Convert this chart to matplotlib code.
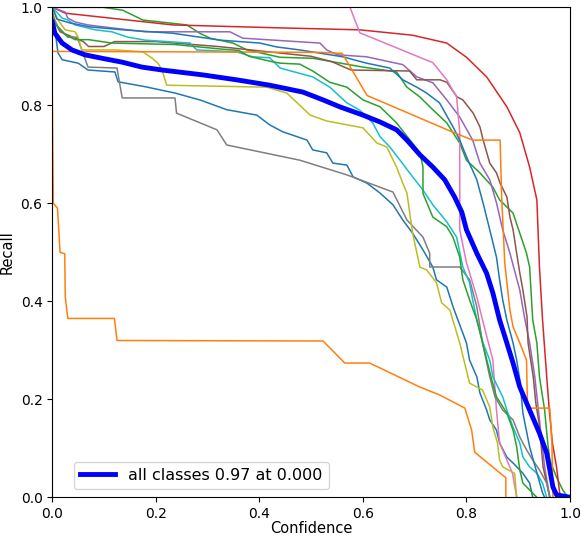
import matplotlib
matplotlib.use("Agg")
import matplotlib.pyplot as plt

# ---- data (confidence, recall) per class ----
blue1_conf = [0, 0.005, 0.011, 0.019, 0.05, 0.069, 0.121, 0.127, 0.179, 0.237, 0.285, 0.337, 0.395, 0.42, 0.445, 0.492, 0.503, 0.53, 0.542, 0.569, 0.581, 0.608, 0.633, 0.658, 0.677, 0.696, 0.716, 0.735, 0.742, 0.762, 0.774, 0.787, 0.8, 0.806, 0.82, 0.826, 0.839, 0.845, 0.858, 0.864, 0.878, 0.89, 0.909, 0.922, 0.928]
blue1_rec = [0.97, 0.955, 0.907, 0.893, 0.886, 0.872, 0.868, 0.848, 0.838, 0.825, 0.811, 0.791, 0.78, 0.76, 0.746, 0.729, 0.709, 0.703, 0.682, 0.678, 0.654, 0.641, 0.621, 0.597, 0.566, 0.539, 0.505, 0.47, 0.444, 0.429, 0.389, 0.352, 0.315, 0.28, 0.246, 0.213, 0.178, 0.158, 0.137, 0.111, 0.082, 0.07, 0.049, 0.029, 0.0]

orange1_conf = [0, 0.002, 0.01, 0.015, 0.024, 0.025, 0.03, 0.12, 0.125, 0.523, 0.565, 0.613, 0.71, 0.748, 0.797, 0.81, 0.816, 0.87, 0.876, 0.876]
orange1_rec = [0.82, 0.6, 0.59, 0.5, 0.497, 0.41, 0.365, 0.365, 0.32, 0.319, 0.274, 0.274, 0.225, 0.209, 0.182, 0.137, 0.092, 0.045, 0.04, 0.0]

green1_conf = [0, 0.098, 0.136, 0.175, 0.26, 0.285, 0.305, 0.349, 0.376, 0.44, 0.503, 0.6, 0.665, 0.685, 0.71, 0.735, 0.762, 0.774, 0.787, 0.8, 0.826, 0.851, 0.864, 0.89, 0.903, 0.916, 0.922, 0.928, 0.936, 0.941, 0.951, 0.957, 0.961, 0.974, 0.986, 0.996]
green1_rec = [1.0, 1.0, 0.994, 0.974, 0.964, 0.947, 0.937, 0.927, 0.913, 0.898, 0.896, 0.878, 0.868, 0.837, 0.817, 0.791, 0.764, 0.744, 0.723, 0.688, 0.662, 0.633, 0.607, 0.58, 0.539, 0.498, 0.47, 0.362, 0.315, 0.246, 0.178, 0.111, 0.076, 0.041, 0.015, 0.0]

red_conf = [0, 0.025, 0.233, 0.44, 0.594, 0.696, 0.762, 0.8, 0.839, 0.878, 0.903, 0.922, 0.936, 0.941, 0.947, 0.955, 0.96, 0.966, 0.974, 0.98, 0.984]
red_rec = [1.0, 0.988, 0.964, 0.958, 0.954, 0.943, 0.927, 0.898, 0.858, 0.797, 0.744, 0.674, 0.607, 0.47, 0.362, 0.246, 0.178, 0.111, 0.062, 0.009, 0.0]

purple_conf = [0, 0.025, 0.03, 0.044, 0.069, 0.115, 0.179, 0.343, 0.368, 0.517, 0.53, 0.551, 0.607, 0.633, 0.677, 0.704, 0.735, 0.762, 0.787, 0.812, 0.826, 0.845, 0.858, 0.87, 0.884, 0.903, 0.912, 0.922, 0.932, 0.941, 0.951, 0.961]
purple_rec = [1.0, 0.99, 0.978, 0.97, 0.964, 0.958, 0.95, 0.95, 0.937, 0.927, 0.913, 0.903, 0.899, 0.893, 0.883, 0.858, 0.846, 0.811, 0.776, 0.729, 0.682, 0.648, 0.601, 0.546, 0.498, 0.423, 0.368, 0.315, 0.246, 0.158, 0.062, 0.0]

brown_conf = [0, 0.005, 0.015, 0.06, 0.07, 0.1, 0.12, 0.2, 0.32, 0.5, 0.54, 0.577, 0.69, 0.704, 0.749, 0.762, 0.782, 0.793, 0.813, 0.826, 0.832, 0.845, 0.858, 0.865, 0.878, 0.884, 0.89, 0.897, 0.903, 0.909, 0.917, 0.919, 0.929, 0.934, 0.94, 0.944, 0.948, 0.961]
brown_rec = [0.99, 0.97, 0.95, 0.93, 0.92, 0.92, 0.93, 0.93, 0.92, 0.9, 0.889, 0.872, 0.87, 0.852, 0.852, 0.847, 0.817, 0.811, 0.784, 0.756, 0.73, 0.682, 0.662, 0.641, 0.613, 0.572, 0.546, 0.498, 0.458, 0.423, 0.368, 0.315, 0.246, 0.192, 0.153, 0.109, 0.062, 0.0]

pink_conf = [0, 0.575, 0.594, 0.735, 0.762, 0.781, 0.787, 0.787, 0.8, 0.82, 0.831, 0.851, 0.858, 0.864, 0.878, 0.889, 0.897]
pink_rec = [1.0, 1.0, 0.948, 0.887, 0.852, 0.817, 0.744, 0.546, 0.479, 0.409, 0.362, 0.28, 0.178, 0.111, 0.076, 0.049, 0.0]

gray_conf = [0, 0.005, 0.011, 0.03, 0.048, 0.057, 0.069, 0.125, 0.135, 0.237, 0.24, 0.318, 0.337, 0.478, 0.569, 0.658, 0.685, 0.716, 0.729, 0.729, 0.787, 0.806, 0.82, 0.831, 0.845, 0.855, 0.87, 0.89, 0.903, 0.916, 0.928, 0.941, 0.955, 0.961]
gray_rec = [0.99, 0.974, 0.96, 0.939, 0.939, 0.913, 0.878, 0.876, 0.815, 0.815, 0.784, 0.75, 0.719, 0.688, 0.658, 0.623, 0.566, 0.531, 0.498, 0.47, 0.47, 0.444, 0.389, 0.315, 0.246, 0.205, 0.178, 0.158, 0.123, 0.097, 0.076, 0.056, 0.029, 0.0]

olive_conf = [0, 0.011, 0.025, 0.044, 0.05, 0.057, 0.121, 0.175, 0.193, 0.204, 0.212, 0.221, 0.414, 0.453, 0.498, 0.53, 0.6, 0.627, 0.646, 0.665, 0.677, 0.685, 0.696, 0.71, 0.723, 0.742, 0.752, 0.768, 0.787, 0.803, 0.806, 0.831, 0.845, 0.851, 0.86, 0.864, 0.87, 0.893, 0.897]
olive_rec = [1.0, 0.974, 0.954, 0.95, 0.939, 0.913, 0.913, 0.909, 0.896, 0.886, 0.872, 0.841, 0.837, 0.825, 0.78, 0.768, 0.754, 0.723, 0.715, 0.674, 0.641, 0.621, 0.539, 0.47, 0.464, 0.438, 0.397, 0.382, 0.315, 0.246, 0.233, 0.219, 0.184, 0.143, 0.111, 0.076, 0.062, 0.049, 0.0]

cyan_conf = [0, 0.019, 0.03, 0.044, 0.083, 0.115, 0.146, 0.179, 0.266, 0.279, 0.356, 0.387, 0.42, 0.44, 0.503, 0.536, 0.569, 0.594, 0.619, 0.633, 0.652, 0.671, 0.696, 0.716, 0.735, 0.762, 0.781, 0.793, 0.806, 0.812, 0.82, 0.832, 0.845, 0.851, 0.87, 0.878, 0.89, 0.903, 0.909, 0.922, 0.936, 0.947, 0.955]
cyan_rec = [1.0, 0.978, 0.974, 0.964, 0.954, 0.95, 0.939, 0.933, 0.927, 0.913, 0.909, 0.899, 0.897, 0.876, 0.858, 0.837, 0.805, 0.79, 0.764, 0.736, 0.715, 0.689, 0.654, 0.627, 0.597, 0.562, 0.531, 0.47, 0.438, 0.403, 0.362, 0.315, 0.28, 0.246, 0.205, 0.178, 0.143, 0.111, 0.082, 0.062, 0.049, 0.029, 0.0]

blue2_conf = [0, 0.009, 0.034, 0.073, 0.137, 0.233, 0.324, 0.401, 0.434, 0.478, 0.561, 0.607, 0.652, 0.677, 0.704, 0.723, 0.748, 0.774, 0.787, 0.8, 0.82, 0.832, 0.845, 0.858, 0.864, 0.87, 0.878, 0.89, 0.897, 0.903, 0.909, 0.922, 0.936, 0.947, 0.951]
blue2_rec = [1.0, 0.976, 0.968, 0.96, 0.954, 0.947, 0.933, 0.927, 0.919, 0.913, 0.899, 0.886, 0.876, 0.852, 0.837, 0.825, 0.805, 0.756, 0.729, 0.695, 0.648, 0.601, 0.546, 0.49, 0.444, 0.403, 0.362, 0.315, 0.28, 0.24, 0.172, 0.103, 0.05, 0.009, 0.0]

orange2_conf = [0, 0.52, 0.56, 0.608, 0.69, 0.774, 0.812, 0.865, 0.868, 0.874, 0.884, 0.89, 0.903, 0.916, 0.918, 0.961, 0.965, 0.967]
orange2_rec = [0.91, 0.908, 0.906, 0.82, 0.783, 0.745, 0.729, 0.729, 0.613, 0.478, 0.382, 0.348, 0.315, 0.28, 0.182, 0.182, 0.111, 0.0]

green2_conf = [0, 0.002, 0.011, 0.025, 0.044, 0.07, 0.115, 0.237, 0.324, 0.36, 0.38, 0.42, 0.44, 0.478, 0.503, 0.536, 0.569, 0.6, 0.633, 0.665, 0.691, 0.71, 0.716, 0.716, 0.735, 0.762, 0.774, 0.787, 0.793, 0.806, 0.82, 0.849, 0.858, 0.878, 0.89, 0.897, 0.903, 0.909, 0.922, 0.936]
green2_rec = [0.99, 0.97, 0.96, 0.944, 0.934, 0.934, 0.927, 0.924, 0.915, 0.912, 0.9, 0.89, 0.886, 0.884, 0.87, 0.847, 0.837, 0.811, 0.797, 0.764, 0.729, 0.703, 0.674, 0.62, 0.572, 0.552, 0.531, 0.49, 0.444, 0.403, 0.362, 0.239, 0.205, 0.172, 0.137, 0.103, 0.056, 0.029, 0.015, 0.0]

all_conf = [0, 0.005, 0.019, 0.038, 0.063, 0.096, 0.135, 0.173, 0.212, 0.291, 0.356, 0.42, 0.484, 0.523, 0.555, 0.6, 0.633, 0.665, 0.685, 0.71, 0.735, 0.758, 0.777, 0.791, 0.8, 0.82, 0.839, 0.851, 0.864, 0.878, 0.89, 0.903, 0.922, 0.941, 0.955, 0.961, 0.967, 0.974, 1.0]
all_rec = [0.97, 0.947, 0.927, 0.913, 0.903, 0.896, 0.888, 0.878, 0.872, 0.862, 0.852, 0.841, 0.827, 0.811, 0.797, 0.78, 0.766, 0.75, 0.729, 0.699, 0.674, 0.648, 0.613, 0.582, 0.546, 0.498, 0.457, 0.417, 0.362, 0.315, 0.274, 0.225, 0.178, 0.131, 0.09, 0.056, 0.021, 0.005, 0.0]

legend_label = "all classes 0.97 at 0.000"

class_curves = [
    (blue1_conf, blue1_rec), (orange1_conf, orange1_rec), (green1_conf, green1_rec),
    (red_conf, red_rec), (purple_conf, purple_rec), (brown_conf, brown_rec),
    (pink_conf, pink_rec), (gray_conf, gray_rec), (olive_conf, olive_rec),
    (cyan_conf, cyan_rec), (blue2_conf, blue2_rec), (orange2_conf, orange2_rec),
    (green2_conf, green2_rec),
]

fig = plt.figure(figsize=(5.81, 5.38), dpi=100)
ax = fig.add_axes([52.3 / 581, 40.7 / 538, 517.7 / 581, 490 / 538])

tab10 = plt.get_cmap("tab10").colors
for i, (cx, cy) in enumerate(class_curves):
    ax.plot(cx, cy, linewidth=1.1, color=tab10[i % 10])

ax.plot(all_conf, all_rec, linewidth=3.5, color="blue", label=legend_label)

ax.set_xlim(0, 1)
ax.set_ylim(0, 1)
ax.set_xlabel("Confidence", fontsize=10.5, labelpad=0)
ax.set_ylabel("Recall", fontsize=10.5)
ax.tick_params(labelsize=10)
ax.legend(loc="lower left", fontsize=11.5, handlelength=2.2,
          bbox_to_anchor=(0.026, 0.0))

fig.savefig("out.png", dpi=100)
